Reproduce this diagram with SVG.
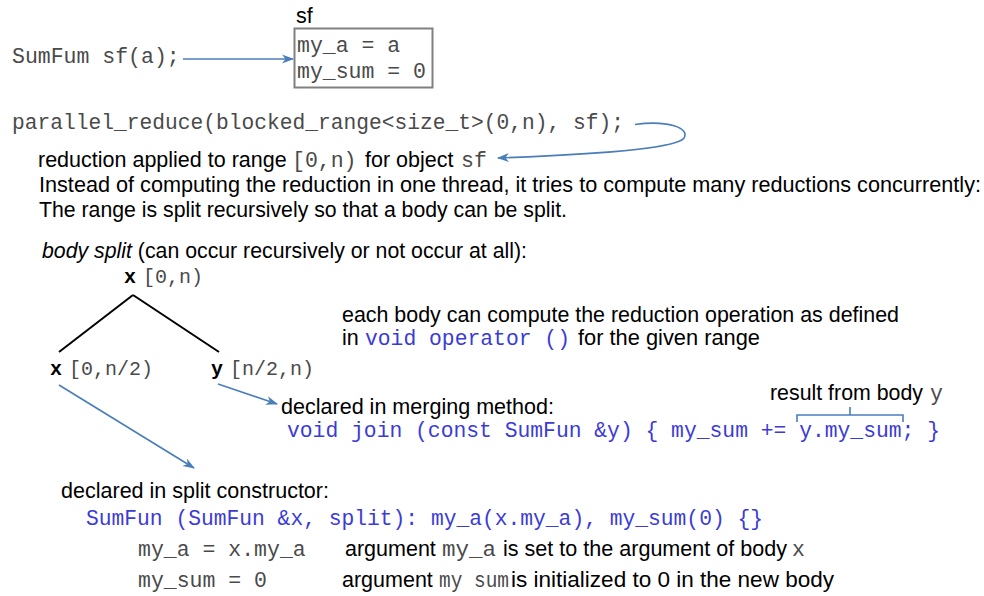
<svg xmlns="http://www.w3.org/2000/svg" width="984" height="596" viewBox="0 0 984 596">
<defs>
<style>
.s{font-family:"Liberation Sans",Arial,sans-serif;font-size:21.5px;fill:#000}
.m{font-family:"Liberation Mono","Courier New",monospace;font-size:21.5px;fill:#4a4a4a}
.t{font-family:"Liberation Mono","Courier New",monospace;font-size:20px;fill:#4a4a4a}
.b{font-weight:bold;fill:#000}
.c{fill:#3b3bd6}
.con{fill:none;stroke:#4a7ebb;stroke-width:1.6}
.tree{fill:none;stroke:#000;stroke-width:2}
</style>
<marker id="ah" viewBox="0 0 12 10" refX="11" refY="5" markerWidth="12" markerHeight="10" markerUnits="userSpaceOnUse" orient="auto">
<path d="M0,0.5 L12,5 L0,9.5 L3.5,5 z" fill="#4a7ebb"/>
</marker>
</defs>
<rect width="984" height="596" fill="#fff"/>

<g id="decl">
<text class="m" x="12" y="63">SumFum sf(a);</text>
</g>

<g id="sfbox">
<text class="s" x="296" y="23">sf</text>
<rect x="294.5" y="28.5" width="138" height="59" fill="#fff" stroke="#808080" stroke-width="2"/>
<text class="m" x="297" y="52">my_a = a</text>
<text class="m" x="297" y="78">my_sum = 0</text>
</g>

<g id="preduce">
<text class="m" x="12" y="129" textLength="612" lengthAdjust="spacingAndGlyphs">parallel_reduce(blocked_range&lt;size_t&gt;(0,n), sf);</text>
</g>

<g id="reduction-note">
<text class="s" x="38" y="167">reduction applied to range</text>
<text class="m" x="292" y="167">[0,n)</text>
<text class="s" x="365" y="167">for object</text>
<text class="m" x="461" y="167">sf</text>
<text class="s" x="39" y="192" textLength="942" lengthAdjust="spacingAndGlyphs">Instead of computing the reduction in one thread, it tries to compute many reductions concurrently:</text>
<text class="s" x="39" y="217" textLength="528" lengthAdjust="spacingAndGlyphs">The range is split recursively so that a body can be split.</text>
</g>

<g id="body-split-title">
<text class="s" x="42" y="258" textLength="485" lengthAdjust="spacingAndGlyphs"><tspan font-style="italic">body split</tspan> (can occur recursively or not occur at all):</text>
</g>

<g id="node-x-root">
<text class="t b" x="124" y="283">x</text>
<text class="t" x="143" y="283">[0,n)</text>
</g>
<g id="node-x-left">
<text class="t b" x="50" y="375">x</text>
<text class="t" x="69" y="375">[0,n/2)</text>
</g>
<g id="node-y-right">
<text class="t b" x="211" y="375">y</text>
<text class="t" x="230" y="375">[n/2,n)</text>
</g>

<g id="operator-note">
<text class="s" x="342" y="322" textLength="557" lengthAdjust="spacingAndGlyphs">each body can compute the reduction operation as defined</text>
<text class="s" x="342" y="345">in</text>
<text class="m c" x="365" y="345" textLength="205" lengthAdjust="spacingAndGlyphs">void operator ()</text>
<text class="s" x="578" y="345" textLength="182" lengthAdjust="spacingAndGlyphs">for the given range</text>
</g>

<g id="join-note">
<text class="s" x="281" y="414" textLength="273" lengthAdjust="spacingAndGlyphs">declared in merging method:</text>
<text class="m c" x="287" y="437" textLength="653" lengthAdjust="spacingAndGlyphs">void join (const SumFun &amp;y) { my_sum += y.my_sum; }</text>
<text class="s" x="770" y="400" textLength="153" lengthAdjust="spacingAndGlyphs">result from body</text>
<text class="m" x="930" y="400">y</text>
</g>

<g id="split-note">
<text class="s" x="61" y="498" textLength="268" lengthAdjust="spacingAndGlyphs">declared in split constructor:</text>
<text class="m c" x="86" y="525" textLength="677" lengthAdjust="spacingAndGlyphs">SumFun (SumFun &amp;x, split): my_a(x.my_a), my_sum(0) {}</text>
<text class="m" x="138" y="556">my_a = x.my_a</text>
<text class="s" x="345" y="556">argument</text>
<text class="m" x="442" y="556" textLength="54" lengthAdjust="spacingAndGlyphs">my_a</text>
<text class="s" x="503" y="556" textLength="284" lengthAdjust="spacingAndGlyphs">is set to the argument of body</text>
<text class="m" x="792" y="556">x</text>
<text class="m" x="138" y="587">my_sum = 0</text>
<text class="s" x="342" y="587">argument</text>
<text class="m" x="439" y="587" textLength="70" lengthAdjust="spacingAndGlyphs">my sum</text>
<text class="s" x="511" y="587" textLength="323" lengthAdjust="spacingAndGlyphs">is initialized to 0 in the new body</text>
</g>

<g id="connectors">
<line class="tree" x1="133" y1="295" x2="59" y2="352"/>
<line class="tree" x1="133" y1="295" x2="219" y2="352"/>
<line class="con" x1="183" y1="59" x2="293" y2="59" marker-end="url(#ah)"/>
<path class="con" d="M635,124.5 C668,120 690,128 684,138 C677,149 580,155 498,158" marker-end="url(#ah)"/>
<line class="con" x1="218" y1="384" x2="277" y2="404" marker-end="url(#ah)"/>
<line class="con" x1="59" y1="385" x2="194" y2="468" marker-end="url(#ah)"/>
<path class="con" d="M797,422 V415 H903 V422 M850,415 V407"/>
</g>
</svg>
